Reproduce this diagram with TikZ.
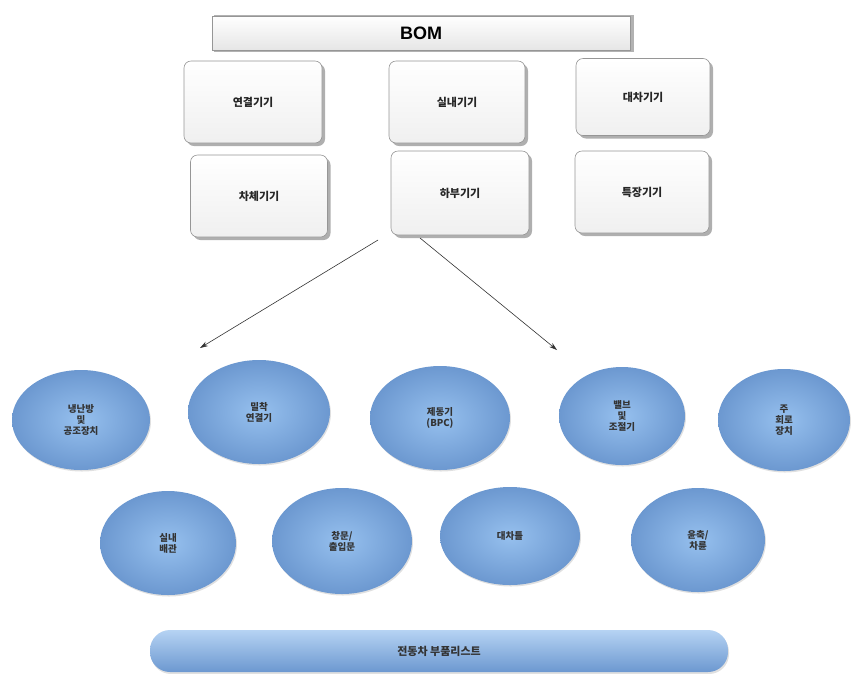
\documentclass[tikz,border=0pt]{standalone}
\usepackage{fontspec}
\setmainfont{Liberation Sans}
\newfontfamily\kr{Noto Sans CJK KR}
\usetikzlibrary{shadows,arrows.meta,shapes.geometric}
\definecolor{ballin}{RGB}{150,192,238}
\definecolor{ballout}{RGB}{108,152,208}
\definecolor{boxedge}{RGB}{150,150,150}
\tikzset{
  x=1pt,y=-1pt,
  boxnode/.style={rounded corners=7pt, draw=boxedge, line width=0.6pt,
    top color=white, bottom color=gray!12,
    font=\kr\bfseries\fontsize{11}{13}\selectfont, text=black!85,
    drop shadow={shadow xshift=3pt, shadow yshift=-3pt, fill=gray!70, opacity=0.9}},
  ballnode/.style={ellipse, inner sep=0pt, draw=none,
    inner color=ballin, outer color=ballout,
    font=\kr\bfseries\fontsize{9.5}{11}\selectfont, text=black!80, align=center,
    drop shadow={shadow xshift=1pt, shadow yshift=-1.5pt, fill=gray!40, opacity=0.6}},
  arr/.style={-{Stealth[length=8pt,width=5pt]}, line width=0.6pt, black!80}
}
\begin{document}
\begin{tikzpicture}
\useasboundingbox (0,0) rectangle (853,673);
% BOM bar
\fill[gray!60] (214,15) rectangle (634,52);
\node[draw=boxedge, line width=0.5pt, top color=white, bottom color=gray!20,
  minimum width=418pt, minimum height=34pt, inner sep=0pt,
  font=\bfseries\fontsize{18}{20}\selectfont] (bom) at (421,33) {BOM};
% Boxes
\node[boxnode, minimum width=138pt, minimum height=82pt] (b1) at (253,102) {연결기기};
\node[boxnode, minimum width=136pt, minimum height=82pt] (b2) at (457,102) {실내기기};
\node[boxnode, minimum width=134pt, minimum height=77pt] (b3) at (643,97) {대차기기};
\node[boxnode, minimum width=137pt, minimum height=82pt] (b4) at (259,196) {차체기기};
\node[boxnode, minimum width=138pt, minimum height=84pt] (b5) at (460,193) {하부기기};
\node[boxnode, minimum width=134pt, minimum height=82pt] (b6) at (642,192) {특장기기};
% arrows
\coordinate (s1) at (378,240);
\coordinate (s2) at (420,238);
\coordinate (e1) at (200,348);
\coordinate (e2) at (557,350);
\draw[arr] (s1) -- (e1);
\draw[arr] (s2) -- (e2);
% ellipses row 1
\node[ballnode, minimum width=138pt, minimum height=100pt] (c1) at (81,420) {냉난방\\및\\공조장치};
\node[ballnode, minimum width=142pt, minimum height=104pt] (c2) at (259,412) {밀착\\연결기};
\node[ballnode, minimum width=140pt, minimum height=104pt] (c3) at (440,418) {제동기\\(BPC)};
\node[ballnode, minimum width=126pt, minimum height=98pt] (c4) at (622,416) {밸브\\및\\조절기};
\node[ballnode, minimum width=132pt, minimum height=102pt] (c5) at (784,420) {주\\회로\\장치};
% ellipses row 2
\node[ballnode, minimum width=136pt, minimum height=104pt] (c6) at (168,543) {실내\\배관};
\node[ballnode, minimum width=140pt, minimum height=106pt] (c7) at (342,541) {창문/\\출입문};
\node[ballnode, minimum width=140pt, minimum height=98pt] (c8) at (510,536) {대차틀};
\node[ballnode, minimum width=134pt, minimum height=104pt] (c9) at (698,540) {윤축/\\차륜};
% bottom bar
\node[rounded corners=20pt, draw=none, minimum width=578pt, minimum height=42pt,
  top color=ballin!70!white, bottom color=ballout,
  drop shadow={shadow xshift=1pt, shadow yshift=-2pt, fill=gray!40, opacity=0.6},
  font=\kr\bfseries\fontsize{11}{13}\selectfont, text=black!80] (bar) at (439,651) {전동차 부품리스트};
\end{tikzpicture}
\end{document}
